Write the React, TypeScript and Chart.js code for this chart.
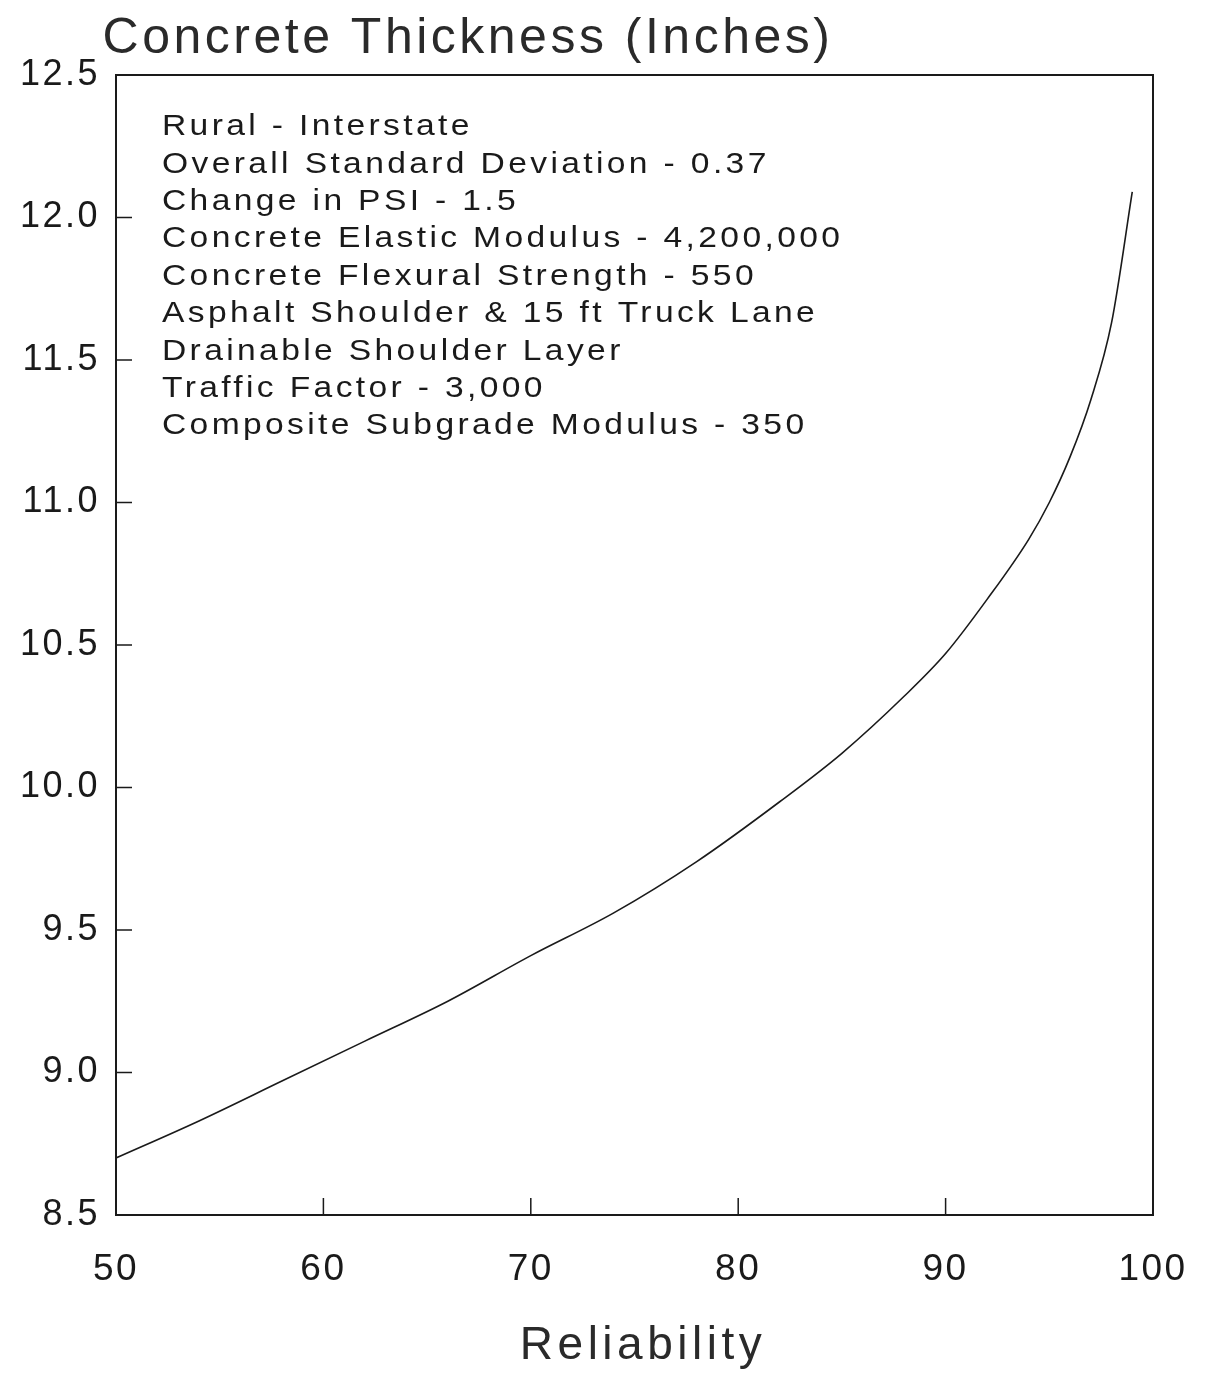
import React, { useEffect, useRef } from "react";
import { Chart, registerables } from "chart.js";

Chart.register(...registerables);

const reliability = [50, 54, 58, 62, 66, 70, 74, 78, 82, 85, 88, 90, 92, 94, 95, 96, 97, 98, 99];
const thickness = [8.7, 8.83, 8.97, 9.11, 9.25, 9.41, 9.56, 9.74, 9.95, 10.12, 10.32, 10.47, 10.66, 10.87, 11.0, 11.16, 11.36, 11.63, 12.09];

const chartTitle = "Concrete Thickness (Inches)";
const xAxisTitle = "Reliability";
const notes = [
  "Rural - Interstate",
  "Overall Standard Deviation - 0.37",
  "Change in PSI - 1.5",
  "Concrete Elastic Modulus - 4,200,000",
  "Concrete Flexural Strength - 550",
  "Asphalt Shoulder & 15 ft Truck Lane",
  "Drainable Shoulder Layer",
  "Traffic Factor - 3,000",
  "Composite Subgrade Modulus - 350",
];
const yTickValues = [9.0, 9.5, 10.0, 10.5, 11.0, 11.5, 12.0];
const xTickValues = [60, 70, 80, 90];

const FONT = "'Liberation Sans', Arial, Helvetica, sans-serif";
const INK = "#1a1a1a";

export default function App() {
  const ref = useRef<HTMLCanvasElement | null>(null);

  useEffect(() => {
    const canvas = ref.current;
    if (!canvas) return;

    const decor = {
      id: "decor",
      beforeDraw(chart: any) {
        chart.ctx.letterSpacing = "2.5px";
      },
      afterDraw(chart: any) {
        const { ctx, chartArea } = chart;
        const xs = chart.scales.x;
        const ys = chart.scales.y;
        ctx.save();
        // frame
        ctx.strokeStyle = INK;
        ctx.lineWidth = 2;
        ctx.strokeRect(chartArea.left, chartArea.top, chartArea.right - chartArea.left, chartArea.bottom - chartArea.top);
        // inward ticks
        ctx.lineWidth = 1.5;
        ctx.beginPath();
        for (const v of yTickValues) {
          const py = ys.getPixelForValue(v);
          ctx.moveTo(chartArea.left, py);
          ctx.lineTo(chartArea.left + 16, py);
        }
        for (const v of xTickValues) {
          const px = xs.getPixelForValue(v);
          ctx.moveTo(px, chartArea.bottom);
          ctx.lineTo(px, chartArea.bottom - 17);
        }
        ctx.stroke();

        // title
        ctx.fillStyle = "#2a2a2a";
        ctx.letterSpacing = "3.5px";
        ctx.font = `50px ${FONT}`;
        ctx.textAlign = "center";
        ctx.textBaseline = "middle";
        ctx.fillText(chartTitle, 460, 31);

        // x axis title
        ctx.letterSpacing = "4.5px";
        ctx.font = `46px ${FONT}`;
        ctx.fillText(xAxisTitle, 635, 1338);

        // notes (wide face: horizontally stretched)
        ctx.fillStyle = INK;
        ctx.letterSpacing = "3px";
        ctx.font = `30px ${FONT}`;
        ctx.textAlign = "left";
        const sx = 1.12;
        const nx = chartArea.left + 46;
        notes.forEach((t, i) => {
          ctx.save();
          ctx.translate(nx, chartArea.top + 52 + i * 37.4);
          ctx.scale(sx, 1);
          ctx.fillText(t, 0, 0);
          ctx.restore();
        });
        ctx.restore();
        ctx.letterSpacing = "0px";
      },
    };

    const chart = new Chart(canvas, {
      type: "line",
      data: {
        datasets: [
          {
            data: reliability.map((x, i) => ({ x, y: thickness[i] })),
            borderColor: INK,
            borderWidth: 1.6,
            pointRadius: 0,
            cubicInterpolationMode: "monotone",
            fill: false,
          },
        ],
      },
      options: {
        responsive: false,
        animation: false,
        layout: { padding: { left: 0, top: 67, right: 53, bottom: 0 } },
        plugins: { legend: { display: false }, tooltip: { enabled: false }, title: { display: false } },
        scales: {
          x: {
            type: "linear",
            min: 50,
            max: 100,
            grid: { display: false, drawTicks: false },
            border: { display: false },
            ticks: {
              stepSize: 10,
              padding: 33,
              color: INK,
              font: { family: FONT, size: 37 },
              maxRotation: 0,
              autoSkip: false,
            },
            afterFit: (s: any) => {
              s.height = 159;
              s.paddingLeft = 0;
              s.paddingRight = 0;
            },
          },
          y: {
            min: 8.5,
            max: 12.5,
            grid: { display: false, drawTicks: false },
            border: { display: false },
            ticks: {
              stepSize: 0.5,
              padding: 16,
              color: INK,
              font: { family: FONT, size: 36 },
              callback: (v: any) => Number(v).toFixed(1),
            },
            afterFit: (s: any) => {
              s.width = 108;
              s.paddingTop = 0;
              s.paddingBottom = 0;
            },
          },
        },
      },
      plugins: [decor],
    });

    return () => chart.destroy();
  }, []);

  return (
    <div style={{ width: 1198, height: 1366 }}>
      <canvas ref={ref} width={1198} height={1366} style={{ display: "block", width: 1198, height: 1366 }} />
    </div>
  );
}
